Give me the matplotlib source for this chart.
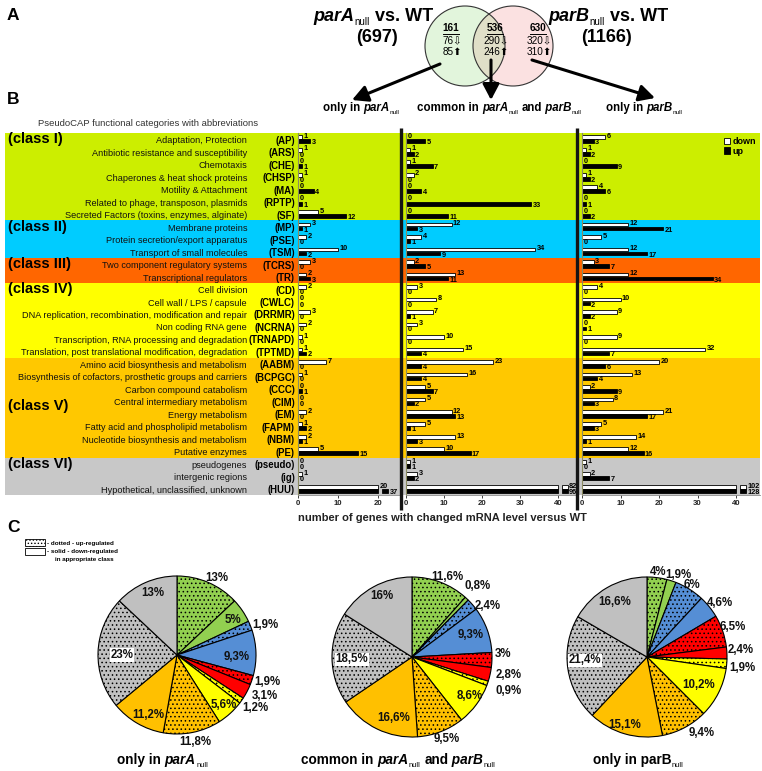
import numpy as np
import matplotlib
matplotlib.use("Agg")
import matplotlib.pyplot as plt
from matplotlib import font_manager as fm
from matplotlib.patches import Circle, Rectangle, Patch

plt.rcParams['hatch.linewidth'] = 0.6
_names = {f.name for f in fm.fontManager.ttflist}
SANS = 'Liberation Sans' if 'Liberation Sans' in _names else 'DejaVu Sans'
HAS_NARROW = 'Liberation Sans Narrow' in _names
NARROW = 'Liberation Sans Narrow' if HAS_NARROW else SANS
plt.rcParams['font.family'] = [SANS, 'DejaVu Sans']

# ---------------- data ----------------
class_names = ['(class I)', '(class II)', '(class III)', '(class IV)', '(class V)', '(class VI)']
class_sizes = [7, 3, 2, 6, 8, 3]
class_colors = ['#CCEE00', '#00CCFF', '#FF6600', '#FFFF00', '#FFC800', '#C8C8C8']

categories = ["Adaptation, Protection", "Antibiotic resistance and susceptibility", "Chemotaxis",
              "Chaperones & heat shock proteins", "Motility & Attachment",
              "Related to phage, transposon, plasmids", "Secreted Factors (toxins, enzymes, alginate)",
              "Membrane proteins", "Protein secretion/export apparatus", "Transport of small molecules",
              "Two component regulatory systems", "Transcriptional regulators",
              "Cell division", "Cell wall / LPS / capsule",
              "DNA replication, recombination, modification and repair", "Non coding RNA gene",
              "Transcription, RNA processing and degradation",
              "Translation, post translational modification, degradation",
              "Amino acid biosynthesis and metabolism",
              "Biosynthesis of cofactors, prosthetic groups and carriers",
              "Carbon compound catabolism", "Central intermediary metabolism", "Energy metabolism",
              "Fatty acid and phospholipid metabolism", "Nucleotide biosynthesis and metabolism",
              "Putative enzymes", "pseudogenes", "intergenic regions",
              "Hypothetical, unclassified, unknown"]
abbrevs = ["(AP)", "(ARS)", "(CHE)", "(CHSP)", "(MA)", "(RPTP)", "(SF)", "(MP)", "(PSE)", "(TSM)",
           "(TCRS)", "(TR)", "(CD)", "(CWLC)", "(DRRMR)", "(NCRNA)", "(TRNAPD)", "(TPTMD)",
           "(AABM)", "(BCPGC)", "(CCC)", "(CIM)", "(EM)", "(FAPM)", "(NBM)", "(PE)",
           "(pseudo)", "(ig)", "(HUU)"]

parA_down = [1, 1, 0, 1, 0, 0, 5, 3, 2, 10, 3, 2, 2, 0, 3, 2, 1, 1, 7, 1, 0, 0, 2, 1, 2, 5, 0, 1, 20]
parA_up = [3, 0, 1, 0, 4, 1, 12, 1, 0, 2, 0, 3, 0, 0, 0, 0, 0, 2, 0, 0, 1, 0, 0, 2, 1, 15, 0, 0, 37]
common_down = [0, 1, 1, 2, 0, 0, 0, 12, 4, 34, 2, 13, 3, 8, 7, 3, 10, 15, 23, 16, 5, 5, 12, 5, 13, 10, 1, 3, 82]
common_up = [5, 2, 7, 0, 4, 33, 11, 3, 1, 9, 5, 11, 0, 0, 1, 0, 0, 4, 4, 4, 7, 2, 13, 1, 3, 17, 1, 2, 96]
parB_down = [6, 1, 0, 1, 4, 0, 0, 12, 5, 12, 3, 12, 4, 10, 9, 0, 9, 32, 20, 13, 2, 8, 21, 5, 14, 12, 1, 2, 102]
parB_up = [3, 2, 9, 2, 6, 1, 2, 21, 0, 17, 7, 34, 0, 2, 2, 1, 0, 7, 6, 4, 9, 3, 17, 3, 1, 16, 0, 7, 128]

venn_only_parA = [161, 76, 85]
venn_common = [536, 290, 246]
venn_only_parB = [630, 320, 310]
total_parA = 697
total_parB = 1166

pie_colors = ['#92D050', '#558ED5', '#FF0000', '#FFFF00', '#FFC000', '#C0C0C0']
# per class: (up, down) percentages
pie_parA = [13, 5, 1.9, 9.3, 1.9, 3.1, 1.2, 5.6, 11.8, 11.2, 23, 13]
pie_common = [11.6, 0.8, 2.4, 9.3, 3, 2.8, 0.9, 8.6, 9.5, 16.6, 18.5, 16]
pie_parB = [4, 1.9, 6, 4.6, 6.5, 2.4, 1.9, 10.2, 9.4, 15.1, 21.4, 16.6]

# ---------------- layout helpers ----------------
W, H = 762, 771
fig = plt.figure(figsize=(W / 100, H / 100), dpi=100)
fig.patch.set_facecolor('white')

ov = fig.add_axes([0, 0, 1, 1], zorder=5)
ov.set_xlim(0, W)
ov.set_ylim(H, 0)
ov.axis('off')
renderer = fig.canvas.get_renderer()


def rich(x, y, parts, size, ha='left', family=SANS):
    objs = []
    total = 0.0
    for txt, kw in parts:
        fs = size * kw.get('scale', 1.0)
        t = ov.text(0, y, txt, fontsize=fs, fontstyle=kw.get('style', 'normal'),
                    fontweight=kw.get('weight', 'bold'), family=family, va='baseline', ha='left')
        w = t.get_window_extent(renderer).width
        gap = kw.get('gap', 0.0) * size * 100 / 72
        sub = kw.get('sub', 0.0) * size * 100 / 72
        objs.append((t, w, gap, sub))
        total += w + gap
    cur = x - total / 2 if ha == 'center' else x
    for t, w, gap, sub in objs:
        cur += gap
        t.set_x(cur)
        t.set_y(y + sub)
        cur += w


def it(s):
    return (s, dict(style='italic', weight='bold'))


def sub(s):
    return (s, dict(scale=0.55, weight='normal', sub=0.22, gap=0.02))


def b(s, gap=0.0):
    return (s, dict(weight='bold', gap=gap))


# ---------------- panel labels ----------------
for lab, y in (('A', 15), ('B', 100), ('C', 527)):
    ov.text(7, y, lab, fontsize=12.5, fontweight='bold', va='center', ha='left')

# ---------------- Venn (A) ----------------
gc, pc, rr = (465, 46), (513, 46), 40
green = Circle(gc, rr, fc='#E2F5DC', ec='none')
pink = Circle(pc, rr, fc='#FBE1E1', ec='none')
ov.add_patch(green)
ov.add_patch(pink)
lens = Circle(gc, rr, fc='#E0DFC8', ec='none')
ov.add_patch(lens)
lens.set_clip_path(pink)
ov.add_patch(Circle(gc, rr, fill=False, ec='#333333', lw=0.8))
ov.add_patch(Circle(pc, rr, fill=False, ec='#333333', lw=0.8))

rich(313, 21, [it('parA'), sub('null'), b('vs. WT', gap=0.28)], 13)
ov.text(377, 37, f'({total_parA})', fontsize=13, fontweight='bold', ha='center', va='center')
rich(548, 21, [it('parB'), sub('null'), b('vs. WT', gap=0.28)], 13)
ov.text(607, 38, f'({total_parB})', fontsize=13, fontweight='bold', ha='center', va='center')

vfs = 7.2
for cx, vals in ((451, venn_only_parA), (495, venn_common), (538, venn_only_parB)):
    ov.text(cx, 28, str(vals[0]), fontsize=vfs, fontweight='bold', family=[SANS, 'DejaVu Sans'],
            ha='center', va='center')
    ov.plot([cx - 8, cx + 8], [33.5, 33.5], color='black', lw=0.7)
    ov.text(cx + 1, 40.5, f'{vals[1]}\u21e9', fontsize=vfs, family=[SANS, 'DejaVu Sans'],
            ha='center', va='center')
    ov.text(cx + 1, 52, f'{vals[2]}\u2b06', fontsize=vfs, family=[SANS, 'DejaVu Sans'],
            ha='center', va='center')

arrow_kw = dict(arrowstyle='-|>,head_length=0.95,head_width=0.5', lw=2.2, color='black',
                mutation_scale=10, shrinkA=0, shrinkB=0)
ov.annotate('', xy=(352, 100), xytext=(440, 64), arrowprops=arrow_kw)
ov.annotate('', xy=(491, 100), xytext=(491, 60), arrowprops=arrow_kw)
ov.annotate('', xy=(655, 98), xytext=(532, 60), arrowprops=arrow_kw)

rich(323, 111, [b('only in '), it('parA'), sub('null')], 8.3)
rich(417, 111, [b('common in '), it('parA'), sub('null'), b('and', gap=0.28), it(' parB'), sub('null')], 8.3)
rich(606, 111, [b('only in '), it('parB'), sub('null')], 8.3)

# ---------------- bars (B) ----------------
n = len(categories)
top, bottom = 133, 495
rowh = (bottom - top) / n

bg = fig.add_axes([5 / W, 1 - bottom / H, 755 / W, (bottom - top) / H], zorder=0)
bg.set_xlim(0, 1)
bg.set_ylim(n, 0)
bg.axis('off')
start = 0
for size, col in zip(class_sizes, class_colors):
    bg.axhspan(start, start + size, color=col, lw=0)
    start += size

ov.text(38, 124, 'PseudoCAP functional categories with abbreviations', fontsize=6.8,
        color='#333333', va='center', ha='left')
class_label_rows = [0.5, 7.5, 10.5, 12.5, 21.85, 26.5]
for name, r in zip(class_names, class_label_rows):
    ov.text(8, top + rowh * r, name, fontsize=10.5, fontweight='bold', va='center', ha='left')
for i, (c, a) in enumerate(zip(categories, abbrevs)):
    yy = top + rowh * (i + 0.5) + 1.5
    ov.text(247, yy, c, fontsize=6.6, color='#111111', va='center', ha='right')
    ov.text(295, yy, a, fontsize=6.9, fontweight='bold', va='center', ha='right')


def draw_panel(x0, x1, ppu, down, up, cap, ticks):
    ax = fig.add_axes([x0 / W, 1 - bottom / H, (x1 - x0) / W, (bottom - top) / H], zorder=1)
    ax.set_facecolor('none')
    ax.set_xlim(0, (x1 - x0) / ppu)
    ax.set_ylim(n, 0)
    rows = np.arange(n) + 0.5
    stub_gap, stub_w = 1.0, 1.6
    for vals, off, fc, tdy in ((np.array(down), -0.16, 'white', -0.06),
                               (np.array(up), 0.16, 'black', 0.12)):
        shown = np.minimum(vals, cap)
        ax.barh(rows + off, shown, height=0.3, color=fc, edgecolor='black', linewidth=0.6)
        over = vals > cap
        if over.any():
            ax.barh((rows + off)[over], stub_w, left=cap + stub_gap, height=0.3, color=fc,
                    edgecolor='black', linewidth=0.6)
        for r, v, s, o in zip(rows + off, vals, shown, over):
            tx = cap + stub_gap + stub_w + 0.3 if o else s + 0.35
            ax.text(tx, r + tdy, str(v), fontsize=5.3, fontweight='bold', va='center', ha='left',
                    clip_on=False)
    for sp in ('top', 'right'):
        ax.spines[sp].set_visible(False)
    ax.spines['left'].set_color('#8a8a60')
    ax.spines['left'].set_linewidth(0.8)
    ax.spines['bottom'].set_color('#8a8a8a')
    ax.spines['bottom'].set_linewidth(0.6)
    ax.set_yticks([])
    ax.set_xticks(ticks)
    ax.tick_params(axis='x', length=2, width=0.6, pad=1.5, labelsize=5.6, colors='#222222')
    for lab in ax.get_xticklabels():
        lab.set_fontweight('bold')
    return ax


ax1 = draw_panel(298, 401, 4.0, parA_down, parA_up, 20, [0, 10, 20])
ax2 = draw_panel(406, 577, 3.8, common_down, common_up, 40, [0, 10, 20, 30, 40])
ax3 = draw_panel(582, 760, 3.85, parB_down, parB_up, 40, [0, 10, 20, 30, 40])

ax3.legend(handles=[Patch(facecolor='white', edgecolor='black', lw=0.6, label='down'),
                    Patch(facecolor='black', edgecolor='black', lw=0.6, label='up')],
           loc='upper right', prop=dict(weight='bold', size=6.5), frameon=True,
           fancybox=False, framealpha=0, edgecolor='#555500', handlelength=0.7, handleheight=0.7,
           handletextpad=0.25, labelspacing=0.05, borderpad=0.15, borderaxespad=0.3)

for xs in (401, 577):
    ov.plot([xs, xs], [128, 510], color='#151515', lw=2.4, solid_capstyle='butt')

ov.text(298, 518, 'number of genes with changed mRNA level versus WT', fontsize=8,
        fontweight='bold', color='#222222', va='center', ha='left')

# ---------------- pies (C) ----------------
lfs = 5 if HAS_NARROW else 4.5
ov.add_patch(Rectangle((25, 539), 20, 7, facecolor='white', edgecolor='black', hatch='.....', lw=0.6))
ov.add_patch(Rectangle((25, 548), 20, 7, facecolor='white', edgecolor='black', lw=0.6))
ov.text(47, 543, '- dotted - up-regulated', fontsize=lfs, fontweight='bold', family=NARROW, va='center')
ov.text(47, 552, '- solid - down-regulated', fontsize=lfs, fontweight='bold', family=NARROW, va='center')
ov.text(55, 560, 'in appropriate class', fontsize=lfs, fontweight='bold', family=NARROW, va='center')

pie1_lab = [(1.1, 27), (0.83, 58), (1.18, 71), (0.76, 92), (1.19, 107), (1.23, 115), (1.19, 124),
            (0.86, 137), (1.12, 168), (0.84, 206), (0.7, 270), (0.84, 339)]
pie2_lab = [(1.1, 24), (1.21, 43), (1.14, 56), (0.78, 69), (1.14, 88), (1.23, 100.5), (1.28, 109.5),
            (0.87, 124), (1.12, 157), (0.8, 197), (0.75, 268), (0.85, 334)]
pie3_lab = [(1.07, 7.4), (1.1, 20.7), (1.06, 32), (1.13, 53.5), (1.14, 71), (1.17, 86), (1.2, 96.6),
            (0.73, 119), (1.17, 144), (0.9, 198), (0.78, 267), (0.8, 330)]


def fmt(v):
    return (f'{v:g}%').replace('.', ',')


def draw_pie(cx, cy, rad, vals, labpos):
    R = 110
    ax = fig.add_axes([(cx - R) / W, 1 - (cy + R) / H, 2 * R / W, 2 * R / H], zorder=2)
    colors = [c for c in pie_colors for _ in (0, 1)]
    pr = rad / R
    wedges, _ = ax.pie(vals, colors=colors, startangle=90, counterclock=False, radius=pr,
                       wedgeprops=dict(edgecolor='black', linewidth=0.8))
    for k, w in enumerate(wedges):
        if k % 2 == 0:
            w.set_hatch('....')
    ax.set_xlim(-1, 1)
    ax.set_ylim(-1, 1)
    for k, (v, (rf, ang)) in enumerate(zip(vals, labpos)):
        a = np.deg2rad(ang)
        kw = {}
        if k == 10:
            kw['bbox'] = dict(boxstyle='square,pad=0.05', fc='white', ec='none')
        ax.text(rf * pr * np.sin(a), rf * pr * np.cos(a), fmt(v), fontsize=8.3, fontweight='bold',
                ha='center', va='center', color='#111111', **kw)
    return ax


draw_pie(177, 655, 79, pie_parA, pie1_lab)
draw_pie(412, 657, 80, pie_common, pie2_lab)
draw_pie(647, 657, 80, pie_parB, pie3_lab)

rich(117, 764, [b('only in '), it('parA'), sub('null')], 9.8)
rich(301, 764, [b('common in '), it('parA'), sub('null'), b('and', gap=0.28), it(' parB'), sub('null')], 9.8)
rich(593, 764, [b('only in parB'), sub('null')], 9.8)

fig.savefig('out.png', dpi=100, facecolor='white')
